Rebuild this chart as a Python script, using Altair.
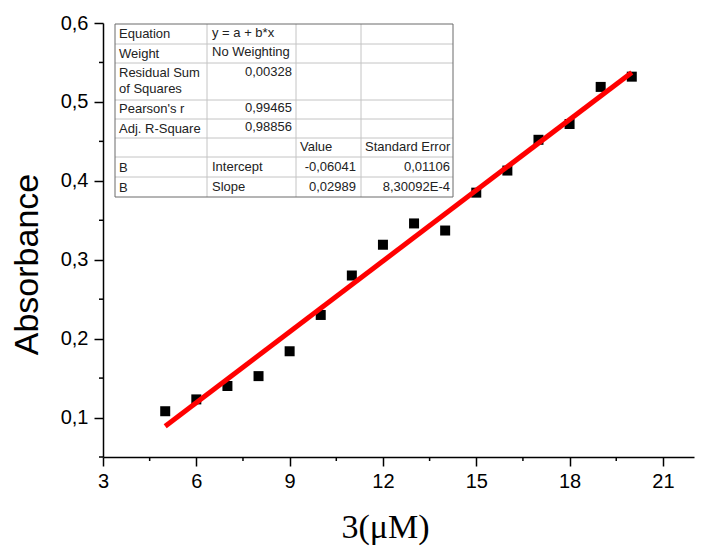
import altair as alt
import pandas as pd

# ---------------- data ----------------
conc = [5, 6, 7, 8, 9, 10, 11, 12, 13, 14, 15, 16, 17, 18, 19, 20]
absorbance = [0.108, 0.123, 0.140, 0.1525, 0.184, 0.230, 0.280, 0.319,
              0.346, 0.337, 0.385, 0.413, 0.452, 0.472, 0.519, 0.532]
fit_x = [5, 20]
fit_y = [0.0891, 0.5374]

x_ticks = [3, 6, 9, 12, 15, 18, 21]
x_minor = [4.5, 7.5, 10.5, 13.5, 16.5, 19.5]
y_ticks = [0.1, 0.2, 0.3, 0.4, 0.5, 0.6]
y_minor = [0.05, 0.15, 0.25, 0.35, 0.45, 0.55]

# fit-report table texts
t_col1 = ["Equation", "Weight", "Residual Sum", "of Squares", "Pearson's r",
          "Adj. R-Square", "B", "B"]
t_col2_left = ["y = a + b*x", "No Weighting", "Intercept", "Slope"]
t_col2_right = ["0,00328", "0,99465", "0,98856"]
t_col3_head = ["Value"]
t_col3_right = ["-0,06041", "0,02989"]
t_col4_head = ["Standard Error"]
t_col4_right = ["0,01106", "8,30092E-4"]

# ---------------- layout (pixels relative to plot origin) ----------------
W, H = 591, 434
OX, OY = 103, 23  # page position of plot origin (incl. 8px margin)

col_edges = [115, 207, 296, 361, 453]
row_edges = [24, 44, 63, 100, 119, 138, 157, 177, 197]

def px(v):
    return v - OX

def py(v):
    return v - OY

left_rows = []
for t, y in zip(t_col1, [34, 53.7, 73.3, 89, 109.3, 129.3, 167.7, 187.7]):
    left_rows.append({"t": t, "px": px(119), "py": py(y)})
for t, y in zip(t_col2_left, [32.7, 51.7, 166.7, 186.7]):
    left_rows.append({"t": t, "px": px(212), "py": py(y)})
for t in t_col3_head:
    left_rows.append({"t": t, "px": px(300), "py": py(147.3)})
for t in t_col4_head:
    left_rows.append({"t": t, "px": px(365), "py": py(147.3)})

right_rows = []
for t, y in zip(t_col2_right, [71.7, 108.3, 127.3]):
    right_rows.append({"t": t, "px": px(292), "py": py(y)})
for t, y in zip(t_col3_right, [166.7, 186.7]):
    right_rows.append({"t": t, "px": px(356), "py": py(y)})
for t, y in zip(t_col4_right, [166.7, 186.7]):
    right_rows.append({"t": t, "px": px(450), "py": py(y)})

inner_rules = []
for y in row_edges[1:-1]:
    inner_rules.append({"x1": px(col_edges[0]), "x2": px(col_edges[-1]), "y1": py(y), "y2": py(y)})
for x in col_edges[1:-1]:
    inner_rules.append({"x1": px(x), "x2": px(x), "y1": py(row_edges[0]), "y2": py(row_edges[-1])})
outer_rules = [
    {"x1": px(col_edges[0]), "x2": px(col_edges[-1]), "y1": py(row_edges[0]), "y2": py(row_edges[0])},
    {"x1": px(col_edges[0]), "x2": px(col_edges[-1]), "y1": py(row_edges[-1]), "y2": py(row_edges[-1])},
    {"x1": px(col_edges[0]), "x2": px(col_edges[0]), "y1": py(row_edges[0]), "y2": py(row_edges[-1])},
    {"x1": px(col_edges[-1]), "x2": px(col_edges[-1]), "y1": py(row_edges[0]), "y2": py(row_edges[-1])},
]

# ---------------- chart ----------------
pts = pd.DataFrame({"conc": conc, "abs": absorbance})
fit = pd.DataFrame({"conc": fit_x, "abs": fit_y})

xscale = alt.Scale(domain=[3, 22], nice=False, zero=False)
yscale = alt.Scale(domain=[0.05, 0.6], nice=False, zero=False)

xaxis = alt.Axis(
    values=x_ticks, grid=False, tickSize=9, tickWidth=1.5, tickColor="black",
    domainColor="black", domainWidth=1.5, labelFont="Liberation Sans",
    labelFontSize=20, labelColor="black", labelPadding=5, labelFlush=False,
    title="3(μM)", titleFont="Liberation Serif", titleFontSize=34,
    titleFontWeight="normal", titleColor="black", titleX=282, titleY=80,
    titleBaseline="alphabetic", titleAlign="center",
)
yaxis = alt.Axis(
    values=y_ticks, grid=False, tickSize=9, tickWidth=1.5, tickColor="black",
    domainColor="black", domainWidth=1.5, labelFont="Liberation Sans",
    labelFontSize=20, labelColor="black", labelPadding=6, labelFlush=False,
    labelExpr="replace(format(datum.value, '.1f'), '.', ',')",
    title="Absorbance", titleFont="Liberation Sans", titleFontSize=34,
    titleFontWeight="normal", titleColor="black", titleX=-66, titleY=241,
    titleBaseline="alphabetic", titleAlign="center", titleAngle=270,
)

points = alt.Chart(pts).mark_square(size=100, color="black", opacity=1, filled=True).encode(
    x=alt.X("conc:Q", scale=xscale, axis=xaxis),
    y=alt.Y("abs:Q", scale=yscale, axis=yaxis),
)
line = alt.Chart(fit).mark_line(color="#ff0000", strokeWidth=5).encode(
    x=alt.X("conc:Q", scale=xscale),
    y=alt.Y("abs:Q", scale=yscale),
)

xminor = alt.Chart(pd.DataFrame({"v": x_minor})).mark_rule(color="black", strokeWidth=1.5).encode(
    x=alt.X("v:Q", scale=xscale), y=alt.value(H), y2=alt.value(H + 4)
)
yminor = alt.Chart(pd.DataFrame({"v": y_minor})).mark_rule(color="black", strokeWidth=1.5).encode(
    y=alt.Y("v:Q", scale=yscale), x=alt.value(0), x2=alt.value(-4)
)

tbg = alt.Chart(pd.DataFrame([{"x1": px(col_edges[0]), "x2": px(col_edges[-1]),
                               "y1": py(row_edges[0]), "y2": py(row_edges[-1])}])).mark_rect(
    color="white").encode(
    x=alt.X("x1:Q", scale=None), x2="x2:Q", y=alt.Y("y1:Q", scale=None), y2="y2:Q")

tin = alt.Chart(pd.DataFrame(inner_rules)).mark_rule(color="#c4c4c4", strokeWidth=1).encode(
    x=alt.X("x1:Q", scale=None), x2="x2:Q", y=alt.Y("y1:Q", scale=None), y2="y2:Q")
tout = alt.Chart(pd.DataFrame(outer_rules)).mark_rule(color="#6a6a6a", strokeWidth=1).encode(
    x=alt.X("x1:Q", scale=None), x2="x2:Q", y=alt.Y("y1:Q", scale=None), y2="y2:Q")

tleft = alt.Chart(pd.DataFrame(left_rows)).mark_text(
    align="left", baseline="middle", font="Liberation Sans", fontSize=13, color="#222222").encode(
    x=alt.X("px:Q", scale=None), y=alt.Y("py:Q", scale=None), text="t:N")
tright = alt.Chart(pd.DataFrame(right_rows)).mark_text(
    align="right", baseline="middle", font="Liberation Sans", fontSize=13, color="#222222").encode(
    x=alt.X("px:Q", scale=None), y=alt.Y("py:Q", scale=None), text="t:N")

chart = alt.layer(points, line, xminor, yminor, tbg, tin, tout, tleft, tright).properties(
    width=W, height=H,
    autosize=alt.AutoSizeParams(type="none"),
    padding={"left": 95, "top": 15, "right": 4, "bottom": 92},
    background="white",
).configure_view(stroke=None)

chart.save("out.html", embed_options={"renderer": "svg", "actions": False})
